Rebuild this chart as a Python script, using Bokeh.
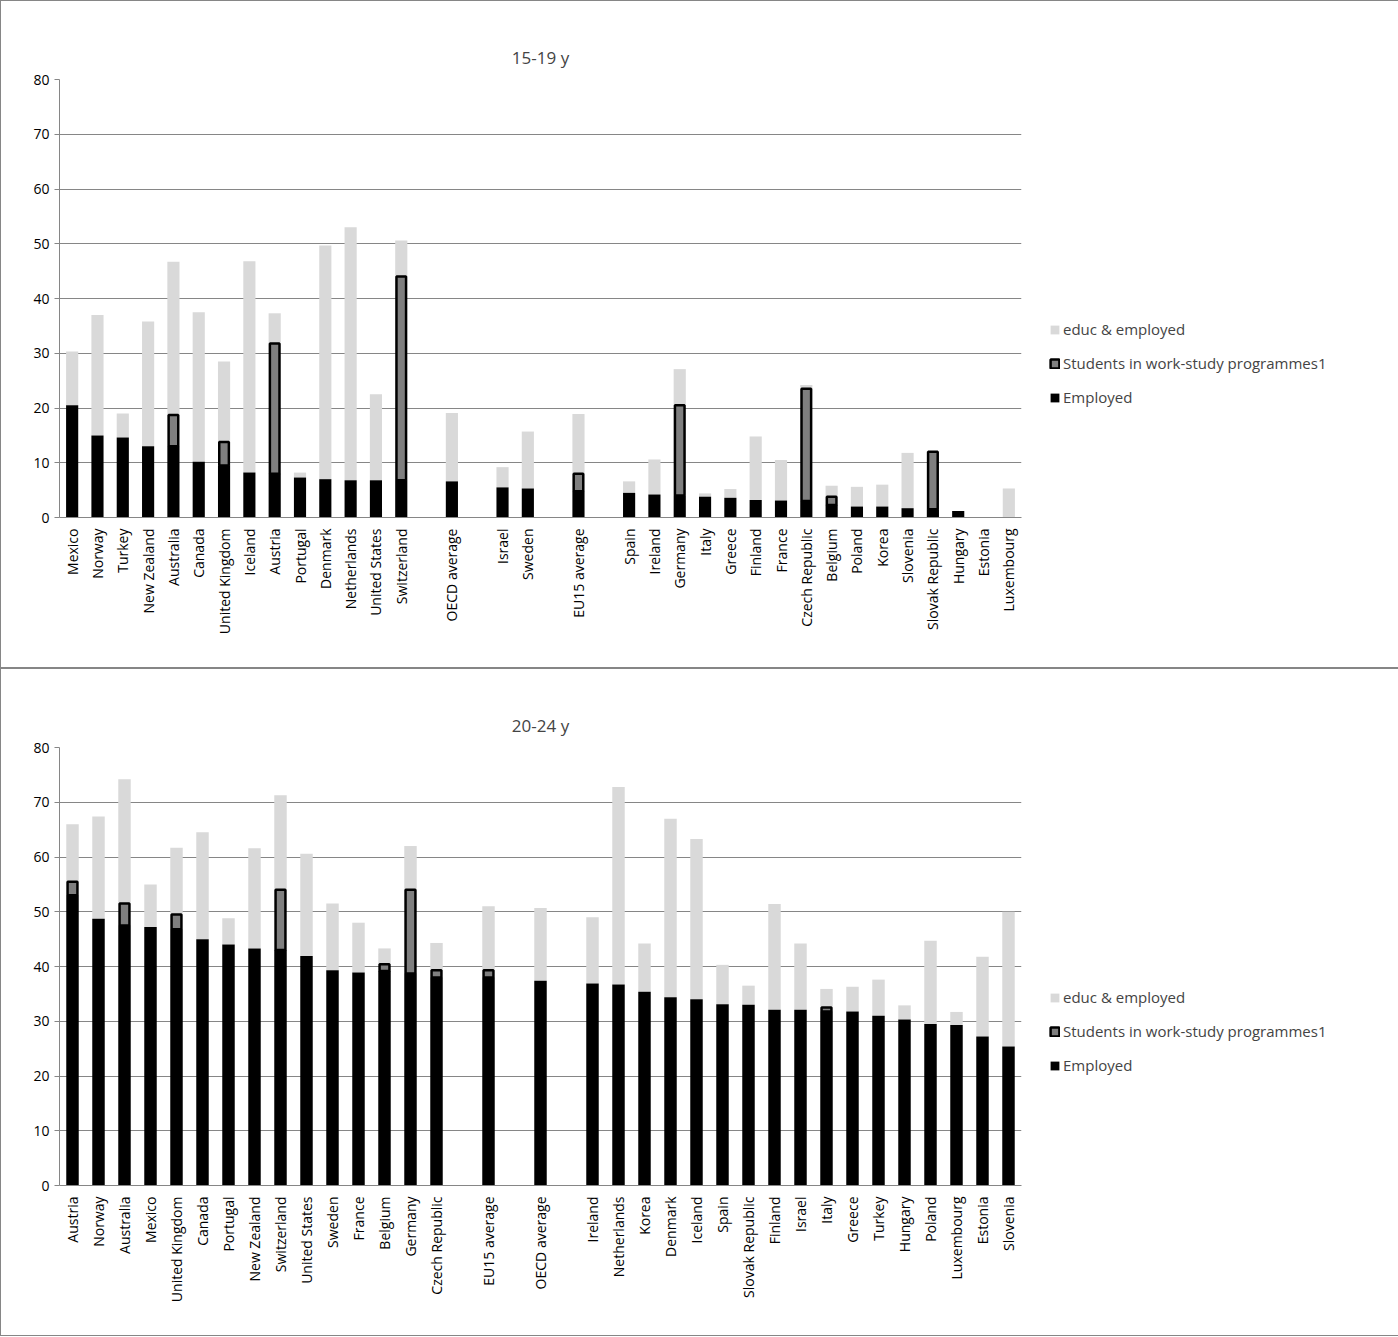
from math import pi
from bokeh.plotting import figure
from bokeh.layouts import column
from bokeh.models import Legend, LegendItem, FactorRange, Range1d, FixedTicker
from bokeh.embed import file_html
from bokeh.resources import INLINE

FONT = "Open Sans"

# 15-19 y ("" entries are empty slots)
cats_1519 = ["Mexico", "Norway", "Turkey", "New Zealand", "Australia", "Canada", "United Kingdom",
             "Iceland", "Austria", "Portugal", "Denmark", "Netherlands", "United States", "Switzerland",
             "", "OECD average", "", "Israel", "Sweden", "", "EU15 average", "",
             "Spain", "Ireland", "Germany", "Italy", "Greece", "Finland", "France", "Czech Republic",
             "Belgium", "Poland", "Korea", "Slovenia", "Slovak Republic", "Hungary", "Estonia", "Luxembourg"]
employed_1519 = [20.5, 15.0, 14.6, 13.0, 13.0, 10.2, 9.5, 8.2, 8.0, 7.3, 7.0, 6.8, 6.8, 6.8,
                 None, 6.6, None, 5.5, 5.3, None, 4.8, None,
                 4.5, 4.2, 4.0, 3.8, 3.6, 3.2, 3.1, 3.0, 2.3, 2.0, 2.0, 1.7, 1.5, 1.2, 0.0, 0.0]
workstudy_top_1519 = [0, 0, 0, 0, 18.7, 0, 13.8, 0, 31.8, 0, 0, 0, 0, 44.0,
                      None, 0, None, 0, 0, None, 8.0, None,
                      0, 0, 20.5, 0, 0, 0, 0, 23.5, 3.8, 0, 0, 0, 12.0, 0, 0, 0]
total_1519 = [30.3, 37.0, 19.0, 35.8, 46.7, 37.5, 28.5, 46.8, 37.3, 8.2, 49.7, 53.0, 22.5, 50.6,
              None, 19.1, None, 9.2, 15.7, None, 18.9, None,
              6.6, 10.6, 27.1, 4.4, 5.2, 14.8, 10.5, 24.2, 5.8, 5.6, 6.0, 11.8, 12.0, 1.2, 0.0, 5.3]

# 20-24 y
cats_2024 = ["Austria", "Norway", "Australia", "Mexico", "United Kingdom", "Canada", "Portugal",
             "New Zealand", "Switzerland", "United States", "Sweden", "France", "Belgium", "Germany",
             "Czech Republic", "", "EU15 average", "", "OECD average", "",
             "Ireland", "Netherlands", "Korea", "Denmark", "Iceland", "Spain", "Slovak Republic",
             "Finland", "Israel", "Italy", "Greece", "Turkey", "Hungary", "Poland", "Luxembourg",
             "Estonia", "Slovenia"]
employed_2024 = [53.0, 48.7, 47.5, 47.2, 46.8, 45.0, 44.0, 43.3, 43.0, 41.9, 39.3, 38.9, 39.2, 38.7,
                 38.0, None, 38.0, None, 37.4, None,
                 36.9, 36.7, 35.4, 34.4, 34.0, 33.1, 33.0, 32.1, 32.1, 31.8, 31.8, 31.0, 30.3,
                 29.5, 29.3, 27.2, 25.4]
workstudy_top_2024 = [55.5, 0, 51.5, 0, 49.5, 0, 0, 0, 54.0, 0, 0, 0, 40.4, 54.0,
                      39.3, None, 39.3, None, 0, None,
                      0, 0, 0, 0, 0, 0, 0, 0, 0, 32.5, 0, 0, 0, 0, 0, 0, 0]
total_2024 = [66.0, 67.4, 74.2, 55.0, 61.7, 64.5, 48.8, 61.6, 71.3, 60.6, 51.5, 48.0, 43.3, 62.0,
              44.3, None, 51.0, None, 50.7, None,
              49.0, 72.8, 44.2, 67.0, 63.3, 40.3, 36.5, 51.4, 44.2, 35.9, 36.3, 37.6, 32.9,
              44.7, 31.7, 41.8, 50.0]


def make_panel(title, cats, employed, ws_top, total):
    # unique factor names for empty slots
    factors = []
    gap = 0
    for c in cats:
        if c == "":
            gap += 1
            factors.append(" " * gap)
        else:
            factors.append(c)

    emp_x, emp_t, ws_x, ws_b, ws_t, ed_x, ed_b, ed_t = [], [], [], [], [], [], [], []
    for f, e, w, t in zip(factors, employed, ws_top, total):
        if e is None:
            continue
        emp_x.append(f); emp_t.append(e)
        top = e
        if w > e:
            ws_x.append(f); ws_b.append(e); ws_t.append(w)
            top = w
        if t > top:
            ed_x.append(f); ed_b.append(top); ed_t.append(t)

    p = figure(x_range=FactorRange(*factors, range_padding=0.0), y_range=Range1d(0, 80),
               frame_width=960, frame_height=436, output_backend="svg", toolbar_location=None,
               min_border_left=58, min_border_top=78, min_border_bottom=152, min_border_right=10)
    p.title.text = title
    p.title.align = "center"
    p.title.standoff = 22
    p.title.text_font = FONT
    p.title.text_font_size = "17px"
    p.title.text_font_style = "normal"
    p.outline_line_color = None
    p.border_fill_color = "white"

    r_ed = p.vbar(x=ed_x, bottom=ed_b, top=ed_t, width=0.48, fill_color="#d9d9d9", line_color=None)
    r_emp = p.vbar(x=emp_x, bottom=0, top=emp_t, width=0.48, fill_color="black", line_color=None)
    r_ws = p.vbar(x=ws_x, bottom=ws_b, top=ws_t, width=0.38, fill_color="#7f7f7f",
                  line_color="black", line_width=2.5)

    p.yaxis.ticker = FixedTicker(ticks=list(range(0, 81, 10)))
    p.ygrid.ticker = FixedTicker(ticks=list(range(0, 81, 10)))
    p.ygrid.grid_line_color = "#868686"
    p.xgrid.grid_line_color = None
    p.xaxis.major_label_orientation = pi / 2
    for ax in (p.xaxis, p.yaxis):
        ax.major_label_text_font = FONT
        ax.major_label_text_font_size = "14px"
        ax.major_label_text_color = "black"
        ax.axis_line_color = "#868686"
        ax.major_tick_line_color = "#868686"
        ax.minor_tick_line_color = None
    p.yaxis.major_tick_out = 5
    p.yaxis.major_tick_in = 0
    p.xaxis.major_tick_line_color = None

    legend = Legend(items=[LegendItem(label="educ & employed", renderers=[r_ed]),
                           LegendItem(label="Students in work-study programmes1", renderers=[r_ws]),
                           LegendItem(label="Employed", renderers=[r_emp])],
                    label_text_font=FONT, label_text_font_size="15px", border_line_color=None,
                    glyph_width=11, glyph_height=11, spacing=14, margin=0, padding=0,
                    label_standoff=3, location=(28, 110))
    p.add_layout(legend, "right")
    return p


p1 = make_panel("15-19 y", cats_1519, employed_1519, workstudy_top_1519, total_1519)
p2 = make_panel("20-24 y", cats_2024, employed_2024, workstudy_top_2024, total_2024)
p1.styles = {"border": "1px solid #868686"}
p2.styles = {"border": "1px solid #868686"}
p = column(p1, p2, spacing=0)

open("out.html", "w").write(file_html(p, INLINE))
